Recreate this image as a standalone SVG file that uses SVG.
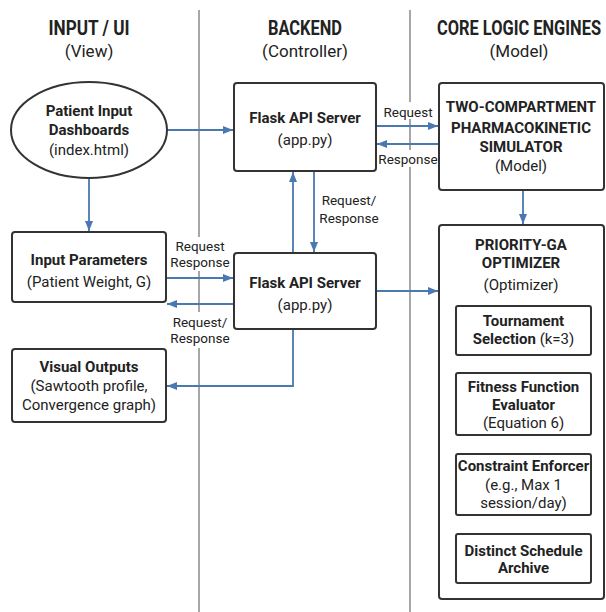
<svg xmlns="http://www.w3.org/2000/svg" width="606" height="612" viewBox="0 0 606 612">
<style>
text{font-family:Roboto,"Liberation Sans",sans-serif;fill:#222;text-anchor:middle}
.h{font-size:20px;font-weight:bold}
.hs{font-size:17px}
.t{font-size:15px;font-weight:bold}
.s{font-size:15px}
.l{font-size:13.5px}
.box{fill:#fff;stroke:#333;stroke-width:2}
.div{stroke:#8a8a8a;stroke-width:1.5}
.c{fill:none;stroke:#4a78b0;stroke-width:1.8;marker-end:url(#ah)}
.bg{fill:#fff}
</style>
<defs>
<marker id="ah" markerUnits="userSpaceOnUse" markerWidth="10" markerHeight="8" refX="10" refY="4" orient="auto"><path d="M0,0 L10,4 L0,8 z" fill="#4a78b0"/></marker>
</defs>
<rect width="606" height="612" fill="#fff"/>
<g id="dividers">
<line class="div" x1="199" y1="10" x2="199" y2="612"/>
<line class="div" x1="410" y1="10" x2="410" y2="612"/>
</g>
<g id="headers">
<text class="h" x="89" y="35" textLength="81" lengthAdjust="spacingAndGlyphs">INPUT / UI</text>
<text class="hs" x="89" y="57">(View)</text>
<text class="h" x="305" y="35" textLength="74" lengthAdjust="spacingAndGlyphs">BACKEND</text>
<text class="hs" x="305" y="57">(Controller)</text>
<text class="h" x="519" y="35" textLength="164" lengthAdjust="spacingAndGlyphs">CORE LOGIC ENGINES</text>
<text class="hs" x="519" y="57">(Model)</text>
</g>
<g id="connectors">
<path class="c" d="M167,130 H233"/>
<path class="c" d="M89,178 V231"/>
<path class="c" d="M376,126 H438"/>
<path class="c" d="M439,144 H377"/>
<path class="c" d="M293,253 V172"/>
<path class="c" d="M314,171 V252"/>
<path class="c" d="M166,278 H233"/>
<path class="c" d="M234,304 H167"/>
<path class="c" d="M293,329 V386 H167"/>
<path class="c" d="M376,291 H438"/>
<path class="c" d="M523,190 V224"/>
<path class="c" d="M524,355 V372"/>
<path class="c" d="M524,435 V453"/>
<path class="c" d="M524,515 V533"/>
</g>
<g id="labels">
<rect class="bg" x="383" y="102" width="50" height="17"/>
<text class="l" x="408" y="117">Request</text>
<rect class="bg" x="378" y="150" width="60" height="17"/>
<text class="l" x="408" y="164">Response</text>
<text class="l" x="349" y="205">Request/</text>
<text class="l" x="349" y="223">Response</text>
<rect class="bg" x="169" y="237" width="62" height="34"/>
<text class="l" x="200" y="251">Request</text>
<text class="l" x="200" y="267">Response</text>
<rect class="bg" x="169" y="312" width="62" height="36"/>
<text class="l" x="200" y="327">Request/</text>
<text class="l" x="200" y="343">Response</text>
</g>
<g id="dashboard">
<ellipse class="box" cx="89" cy="130" rx="78" ry="48"/>
<text class="t" x="89" y="116">Patient Input</text>
<text class="t" x="89" y="135">Dashboards</text>
<text class="s" x="89" y="155">(index.html)</text>
</g>
<g id="input-params">
<rect class="box" x="12" y="232" width="154" height="70" rx="3"/>
<text class="t" x="89" y="265">Input Parameters</text>
<text class="s" x="89" y="287">(Patient Weight, G)</text>
</g>
<g id="visual-outputs">
<rect class="box" x="12" y="349" width="154" height="73" rx="3"/>
<text class="t" x="89" y="372">Visual Outputs</text>
<text class="s" x="89" y="391">(Sawtooth profile,</text>
<text class="s" x="89" y="410">Convergence graph)</text>
</g>
<g id="flask-top">
<rect class="box" x="234" y="83" width="142" height="88" rx="3"/>
<text class="t" x="305" y="123">Flask API Server</text>
<text class="s" x="305" y="145">(app.py)</text>
</g>
<g id="flask-bottom">
<rect class="box" x="234" y="253" width="142" height="76" rx="3"/>
<text class="t" x="305" y="288">Flask API Server</text>
<text class="s" x="305" y="310">(app.py)</text>
</g>
<g id="pk-simulator">
<rect class="box" x="439" y="83" width="165" height="107" rx="3"/>
<text class="t" x="521" y="112">TWO-COMPARTMENT</text>
<text class="t" x="521" y="133">PHARMACOKINETIC</text>
<text class="t" x="521" y="152">SIMULATOR</text>
<text class="s" x="521" y="171">(Model)</text>
</g>
<g id="optimizer">
<rect class="box" x="439" y="225" width="165" height="374" rx="3"/>
<text class="t" x="521" y="250">PRIORITY-GA</text>
<text class="t" x="521" y="268">OPTIMIZER</text>
<text class="s" x="521" y="290">(Optimizer)</text>
</g>
<g id="tournament">
<rect class="box" x="456" y="306" width="135" height="49" rx="2"/>
<text class="t" x="523.5" y="326">Tournament</text>
<text class="t" x="523.5" y="344">Selection <tspan font-weight="normal">(k=3)</tspan></text>
</g>
<g id="fitness">
<rect class="box" x="456" y="373" width="135" height="62" rx="2"/>
<text class="t" x="523.5" y="392">Fitness Function</text>
<text class="t" x="523.5" y="410">Evaluator</text>
<text class="s" x="523.5" y="428">(Equation 6)</text>
</g>
<g id="constraint">
<rect class="box" x="456" y="454" width="135" height="61" rx="2"/>
<text class="t" x="523.5" y="471">Constraint Enforcer</text>
<text class="s" x="523.5" y="490">(e.g., Max 1</text>
<text class="s" x="523.5" y="508">session/day)</text>
</g>
<g id="archive">
<rect class="box" x="456" y="534" width="135" height="49" rx="2"/>
<text class="t" x="523.5" y="556">Distinct Schedule</text>
<text class="t" x="523.5" y="573">Archive</text>
</g>
</svg>
